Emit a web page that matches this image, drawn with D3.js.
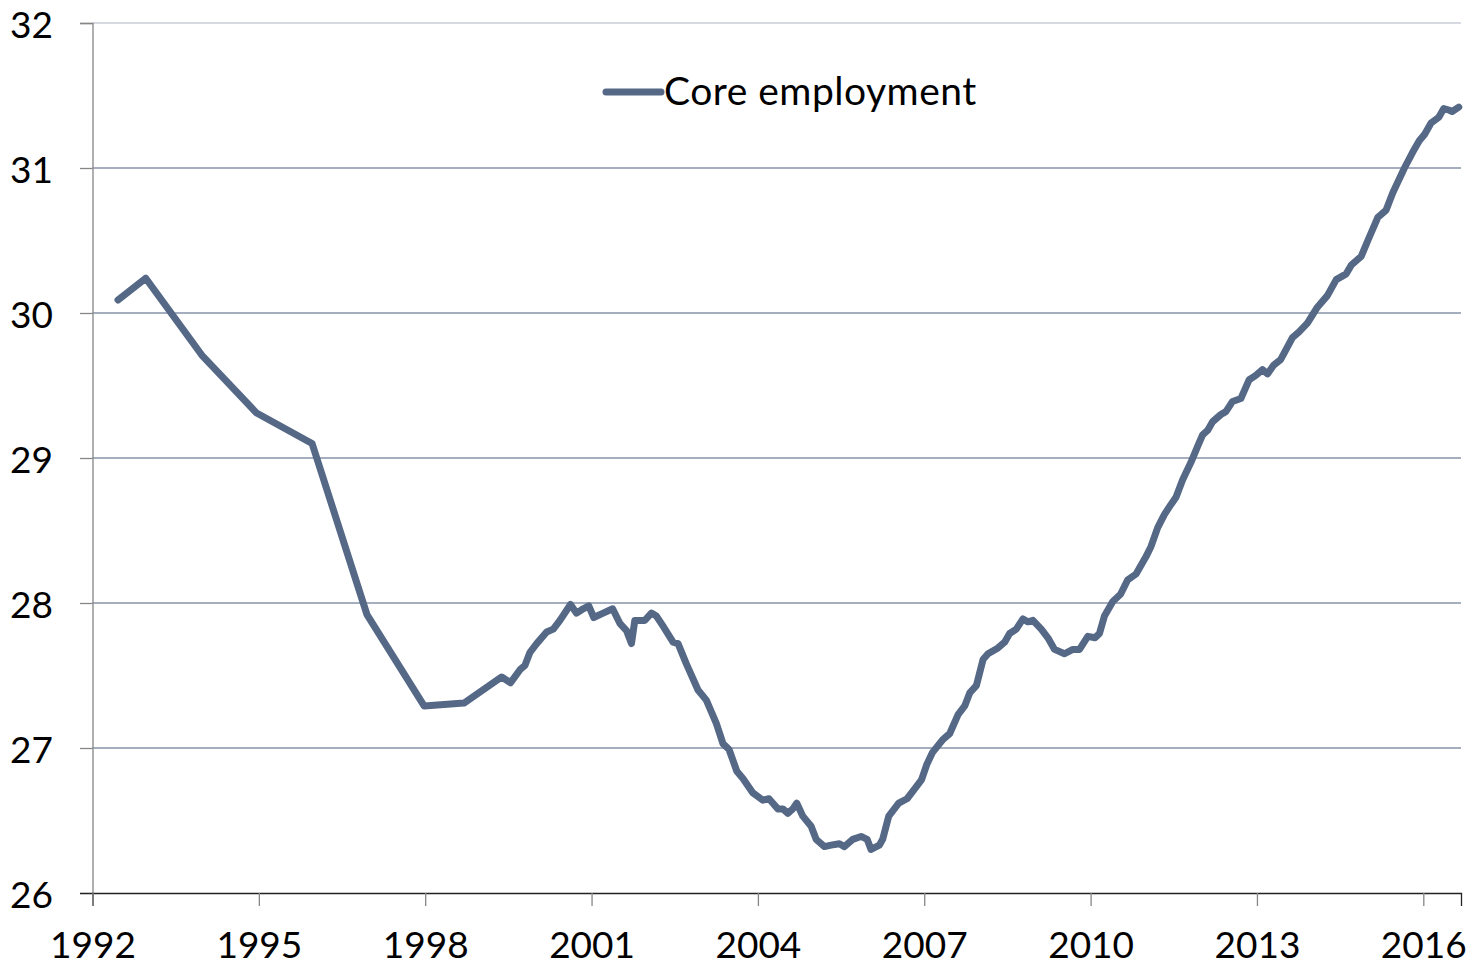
<!DOCTYPE html>
<html>
<head>
<meta charset="utf-8">
<script src="https://cdn.jsdelivr.net/npm/d3@7"></script>
<style>
  body { margin: 0; background: #fff; }
  svg { display: block; font-family: Lato, "Open Sans", sans-serif; }
</style>
</head>
<body>
<svg class="chart"></svg>
<script>
// decimal year of each observation and core employment value
const years = [
  1992.46, 1992.96, 1993.97, 1994.96, 1995.96, 1996.95, 1997.98, 1998.70,
  1999.38, 1999.54, 1999.71, 1999.80, 1999.89, 2000.01, 2000.19, 2000.31, 2000.43, 2000.62, 2000.73, 2000.85, 2000.95,
  2001.04, 2001.21, 2001.38, 2001.51, 2001.63, 2001.72, 2001.78, 2001.96,
  2002.08, 2002.17, 2002.29, 2002.47, 2002.56, 2002.71, 2002.92,
  2003.07, 2003.25, 2003.37, 2003.48, 2003.62, 2003.73, 2003.91,
  2004.09, 2004.20, 2004.36, 2004.45, 2004.54, 2004.63, 2004.70, 2004.81, 2004.96,
  2005.05, 2005.20, 2005.32, 2005.47, 2005.56, 2005.71, 2005.86, 2005.97,
  2006.04, 2006.19, 2006.25, 2006.36, 2006.54, 2006.69, 2006.81, 2006.95,
  2007.05, 2007.15, 2007.34, 2007.46, 2007.61, 2007.73, 2007.82, 2007.94,
  2008.06, 2008.15, 2008.33, 2008.45, 2008.54, 2008.66, 2008.78, 2008.87, 2008.96,
  2009.11, 2009.23, 2009.35, 2009.53, 2009.68, 2009.80, 2009.95,
  2010.08, 2010.16, 2010.25, 2010.40, 2010.54, 2010.67, 2010.82,
  2011.00, 2011.09, 2011.21, 2011.33, 2011.45, 2011.54, 2011.66, 2011.81, 2011.93,
  2012.02, 2012.11, 2012.20, 2012.35, 2012.44, 2012.56, 2012.71, 2012.86, 2012.98,
  2013.10, 2013.19, 2013.30, 2013.43, 2013.64, 2013.76, 2013.91,
  2014.09, 2014.27, 2014.43, 2014.61, 2014.70, 2014.88,
  2015.00, 2015.18, 2015.33, 2015.45, 2015.66, 2015.81, 2015.93,
  2016.02, 2016.14, 2016.28, 2016.37, 2016.46, 2016.52, 2016.64
];
const coreEmployment = [
  30.09, 30.24, 29.71, 29.31, 29.10, 27.92, 27.29, 27.31,
  27.49, 27.45, 27.54, 27.57, 27.66, 27.72, 27.80, 27.82, 27.88, 27.99, 27.93, 27.96, 27.98,
  27.90, 27.93, 27.96, 27.86, 27.81, 27.72, 27.88, 27.88,
  27.93, 27.91, 27.84, 27.73, 27.72, 27.58, 27.40,
  27.33, 27.17, 27.03, 26.99, 26.84, 26.79, 26.69,
  26.64, 26.65, 26.58, 26.58, 26.55, 26.58, 26.62, 26.53, 26.46,
  26.37, 26.32, 26.33, 26.34, 26.32, 26.37, 26.39, 26.37,
  26.30, 26.33, 26.37, 26.53, 26.62, 26.65, 26.71, 26.78,
  26.89, 26.97, 27.06, 27.10, 27.23, 27.29, 27.38, 27.43,
  27.61, 27.65, 27.69, 27.73, 27.79, 27.82, 27.89, 27.87, 27.88,
  27.82, 27.76, 27.68, 27.65, 27.68, 27.68, 27.77,
  27.76, 27.79, 27.91, 28.01, 28.06, 28.16, 28.20,
  28.32, 28.39, 28.52, 28.61, 28.68, 28.73, 28.85, 28.97, 29.08,
  29.16, 29.19, 29.25, 29.30, 29.32, 29.39, 29.41, 29.54, 29.57,
  29.61, 29.58, 29.64, 29.68, 29.83, 29.87, 29.93,
  30.04, 30.12, 30.23, 30.27, 30.33, 30.39,
  30.50, 30.66, 30.71, 30.83, 31.00, 31.11, 31.19,
  31.23, 31.31, 31.35, 31.41, 31.40, 31.39, 31.42
];
const xTicks = [1992, 1995, 1998, 2001, 2004, 2007, 2010, 2013, 2016];
const yTicks = [26, 27, 28, 29, 30, 31, 32];
const seriesName = "Core employment";

const data = years.map((yr, i) => ({ year: yr, value: coreEmployment[i] }));

let width = 1473, height = 967;
let margin = {top: 23, right: 12, bottom: 74, left: 92.5};
let w = width - margin.left - margin.right;
let h = height - margin.top - margin.bottom;
const lineColor = "#556987";

let svg = d3.select(".chart").attr("width", width).attr("height", height);
let chart = svg.append("g")
    .attr("transform", "translate(" + margin.left + "," + margin.top + ")");

let x = d3.scaleLinear().domain([1992, 2016.68]).range([0, w]);
let y = d3.scaleLinear().domain([26, 32]).range([h, 0]);

// gridlines
chart.append("g").selectAll("line")
    .data(yTicks.filter(d => d > 26))
    .enter().append("line")
      .attr("x1", 0).attr("x2", w)
      .attr("y1", d => y(d)).attr("y2", d => y(d))
      .attr("stroke", d => d === 32 ? "#c9ced6" : "#8793a8")
      .attr("stroke-width", 1.3);

// y axis
let yAxis = chart.append("g")
    .call(d3.axisLeft(y).tickValues(yTicks).tickSize(12.5).tickPadding(27).tickFormat(d3.format("d")));
yAxis.select(".domain").attr("stroke", "#868686").attr("stroke-width", 1.3);
yAxis.selectAll(".tick line").attr("stroke", "#868686").attr("stroke-width", 1.3);
yAxis.selectAll("text").attr("font-size", 37).attr("dy", "0.38em").attr("fill", "#000").attr("font-family", "Lato, sans-serif");

// x axis
let xAxis = chart.append("g")
    .attr("transform", "translate(0," + h + ")")
    .call(d3.axisBottom(x).tickValues(xTicks).tickSize(13).tickPadding(26).tickFormat(d3.format("d")));
xAxis.select(".domain").attr("stroke", "#222").attr("stroke-width", 1.3);
xAxis.selectAll(".tick line").attr("stroke", "#868686").attr("stroke-width", 1.3);
xAxis.selectAll("text").attr("font-size", 37).attr("fill", "#000").attr("font-family", "Lato, sans-serif");
// the 26 tick line continues the x axis in black
yAxis.selectAll(".tick").filter(d => d === 26).select("line").attr("stroke", "#222");

// series line
let line = d3.line().x(d => x(d.year)).y(d => y(d.value));
chart.append("path")
    .datum(data)
    .attr("d", line)
    .attr("fill", "none")
    .attr("stroke", lineColor)
    .attr("stroke-width", 7)
    .attr("stroke-linejoin", "round")
    .attr("stroke-linecap", "round");

// legend
let legend = svg.append("g").attr("transform", "translate(606,92)");
legend.append("line")
    .attr("x1", 0).attr("x2", 55).attr("y1", 0).attr("y2", 0)
    .attr("stroke", lineColor).attr("stroke-width", 7).attr("stroke-linecap", "round");
legend.append("text")
    .attr("x", 58).attr("y", 13)
    .attr("font-size", 39)
    .attr("letter-spacing", 0.5)
    .attr("fill", "#000")
    .text(seriesName);
</script>
</body>
</html>
